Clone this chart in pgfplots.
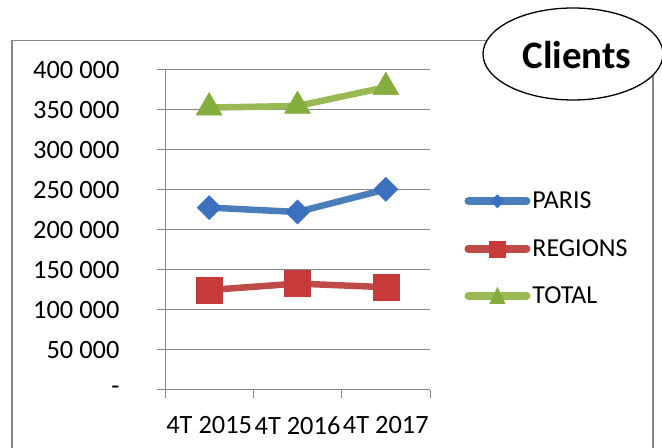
\documentclass[border=0pt]{standalone}
\usepackage{pgfplots}
\pgfplotsset{compat=1.18}
\usepackage{fontspec}
\setmainfont{Carlito}
\definecolor{bl}{HTML}{4A7EBB}
\definecolor{blm}{HTML}{3A70BE}
\definecolor{rd}{HTML}{BE4B48}
\definecolor{rdm}{HTML}{C8393A}
\definecolor{gr}{HTML}{98B954}
\definecolor{grm}{HTML}{84AD3E}
\definecolor{gridc}{HTML}{868686}
\begin{document}
\begin{tikzpicture}[x=1bp,y=1bp]
\path (0,0) rectangle (662,448);
% outer frame
\draw[gridc, line width=1.2bp] (12,-5) -- (12,407.5) -- (500,407.5);
\draw[gridc, line width=1.2bp] (653,-5) -- (653,380);
\begin{axis}[
  scale only axis, width=265bp, height=320bp,
  at={(165bp,58bp)}, anchor=south west,
  xmin=0.5, xmax=3.5, ymin=0, ymax=400000,
  scaled y ticks=false,
  axis x line*=bottom, axis y line*=left,
  axis line style={gridc, line width=1bp},
  xtick={1,2,3}, xticklabels={4T 2015,4T 2016,4T 2017},
  minor xtick={0.5,1.5,2.5,3.5},
  ytick={0,50000,100000,150000,200000,250000,300000,350000,400000},
  yticklabels={-\hspace{14bp},50 000,100 000,150 000,200 000,250 000,300 000,350 000,400 000},
  major x tick style={draw=none},
  minor tick length=8bp, major tick length=8bp,
  tick align=outside,
  tick style={gridc, line width=1bp},
  ymajorgrids, grid style={gridc, line width=1bp},
  yticklabel style={font=\fontsize{26.5}{26.5}\selectfont, xshift=-34bp},
  xticklabel style={font=\fontsize{26.5}{26.5}\selectfont, yshift=-15bp},
  legend style={draw=none, fill=none, at={(1.118,0.442)}, anchor=west,
     font=\fontsize{26}{26}\selectfont, row sep=25bp,
     /tikz/every even column/.append style={column sep=0bp}},
  legend cell align=left,
  clip=false,
]
\addplot[bl, line width=6.5bp, mark=square*, mark size=8.5bp,
  mark options={rotate=45, fill=blm, draw=blm, line width=0.5bp},
  legend image code/.code={
    \draw[bl, line width=8bp, line cap=round] (0bp,0bp) -- (58bp,0bp);
    \path[fill=blm, draw=none] (29bp,-7bp) -- (36bp,0bp) -- (29bp,7bp) -- (22bp,0bp) -- cycle;
  }]
  coordinates {(1,228000) (2,222500) (3,250800)};
\addlegendentry{PARIS}
\addplot[rd, line width=6.5bp, mark=square*, mark size=13bp,
  mark options={fill=rdm, draw=rdm, line width=0.5bp},
  legend image code/.code={
    \draw[rd, line width=8bp, line cap=round] (0bp,0bp) -- (58bp,0bp);
    \path[fill=rdm, draw=none] (21bp,-9bp) rectangle (38bp,8bp);
  }]
  coordinates {(1,125000) (2,133000) (3,128500)};
\addlegendentry{REGIONS}
\addplot[gr, line width=6.5bp, mark=triangle*, mark size=15bp,
  mark options={fill=grm, draw=grm, line width=0.5bp},
  legend image code/.code={
    \draw[gr, line width=8bp, line cap=round] (0bp,0bp) -- (58bp,0bp);
    \path[fill=grm, draw=none] (21bp,-8bp) -- (37bp,-8bp) -- (29bp,9bp) -- cycle;
  }]
  coordinates {(1,353000) (2,355000) (3,378500)};
\addlegendentry{TOTAL}
\end{axis}
\draw[black, line width=1.3bp, fill=white] (573,394) ellipse [x radius=90, y radius=46];
\node[font=\fontsize{39}{39}\selectfont\bfseries] at (577,393) {Clients};
\pgfresetboundingbox
\path (0,0) rectangle (662,448);
\end{tikzpicture}
\end{document}
